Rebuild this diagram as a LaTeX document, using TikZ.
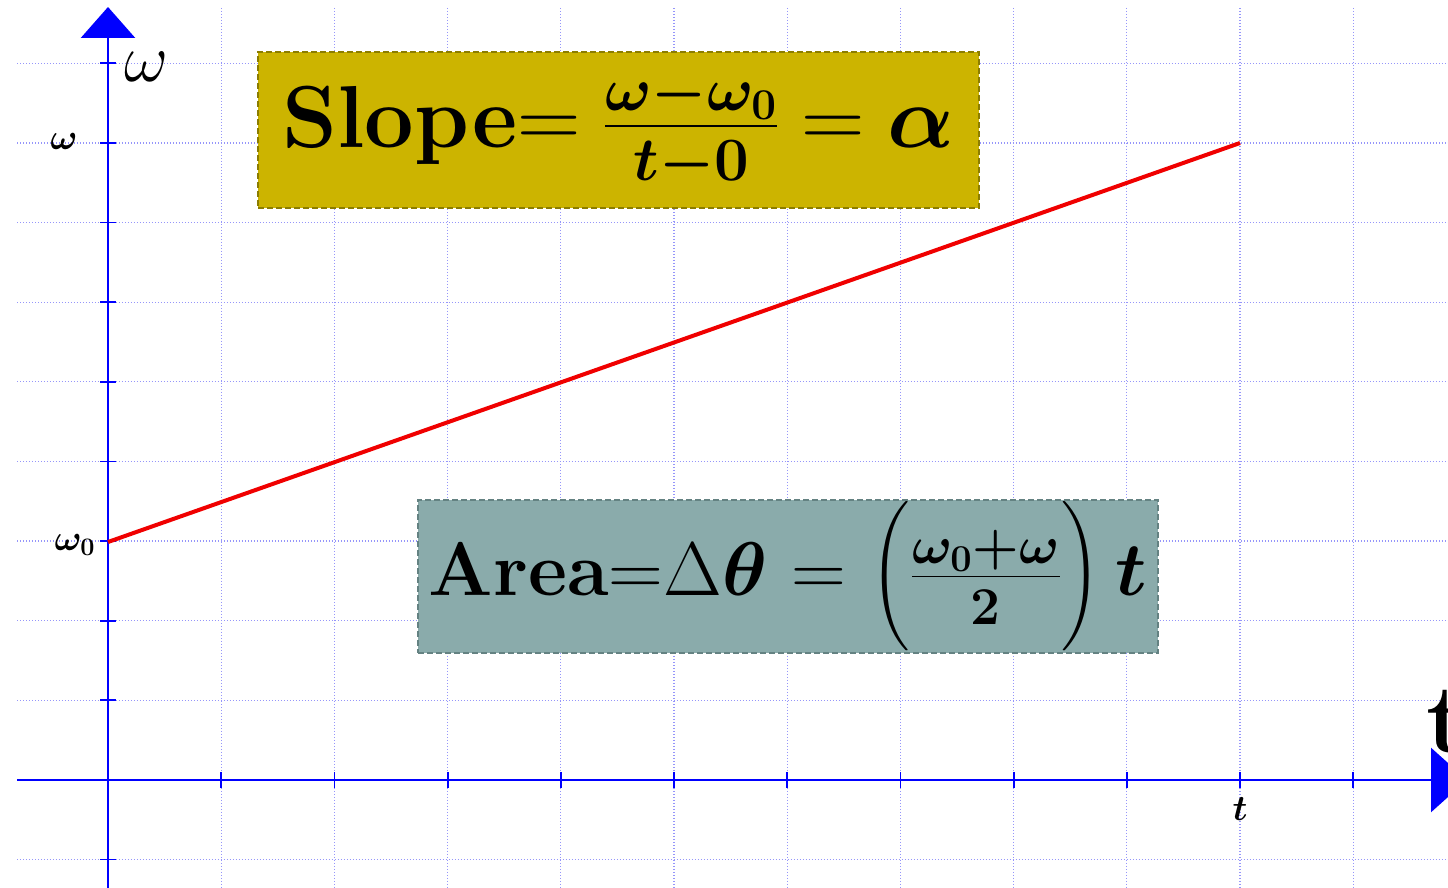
\RequirePackage{fix-cm}
\documentclass[tikz,border=0pt]{standalone}
\usepackage{amsmath,bm}
\usetikzlibrary{arrows.meta}
\definecolor{gridc}{RGB}{150,150,250}
\definecolor{axisc}{RGB}{0,0,255}
\definecolor{slopefill}{RGB}{204,180,0}
\definecolor{slopeedge}{RGB}{140,125,0}
\definecolor{areafill}{RGB}{138,171,171}
\definecolor{areaedge}{RGB}{100,130,130}
\definecolor{linec}{RGB}{240,0,0}
\tikzset{
  gridline/.style={draw=gridc,line width=0.6pt,dash pattern=on 0.6pt off 0.9pt},
  axisline/.style={draw=axisc,line width=1.4pt},
  tickmark/.style={draw=axisc,line width=0.9pt},
  slopebox/.style={draw=slopeedge,fill=slopefill,line width=1pt,dash pattern=on 3pt off 1.5pt,
    minimum width=360.5pt,minimum height=78pt,inner sep=0pt,text=white},
  areabox/.style={draw=areaedge,fill=areafill,line width=1pt,dash pattern=on 3pt off 1.5pt,
    minimum width=370pt,minimum height=76.5pt,inner sep=0pt,text=white},
  redline/.style={draw=linec,line width=2pt},
  lbl/.style={inner sep=0pt,text=black}
}
\newcommand{\thineq}{\mathrel{\mbox{\unboldmath$=$}}}
\newsavebox{\slopetxt}
\newsavebox{\areatxt}
\begin{document}
\sbox{\slopetxt}{\fontsize{44}{48}\selectfont\mathversion{bold}\thickmuskip=4mu\textbf{Slope}$\thineq\frac{\omega-\omega_0}{t-0}\thineq\alpha$}%
\sbox{\areatxt}{\fontsize{38}{42}\selectfont\mathversion{bold}\textbf{Area}$\mathord{\mbox{\unboldmath$=$}}\mbox{\unboldmath$\Delta$}\theta\thineq\mbox{\unboldmath$\Bigl($}\frac{\omega_0+\omega}{2}\mbox{\unboldmath$\Bigr)$}\,t$}%
\begin{tikzpicture}[x=0.5pt,y=-0.5pt]
\clip (0,0) rectangle (1448,888);
\fill[white] (0,0) rectangle (1448,888);
% grid
\foreach \i in {0,...,11} \draw[gridline] ({108+113.2*\i},8) -- ({108+113.2*\i},888);
\foreach \j in {0,...,10} \draw[gridline] (17,{63.4+79.6*\j}) -- (1448,{63.4+79.6*\j});
% axes
\coordinate (ybot) at (108,888);
\coordinate (ytop) at (108,7);
\coordinate (xleft) at (17,780);
\coordinate (xright) at (1467,780);
\draw[axisline,-{Triangle[width=27pt,length=15.5pt]}] (ybot) -- (ytop);
\draw[axisline,-{Triangle[width=32pt,length=18pt]}] (xleft) -- (xright);
% ticks
\foreach \j in {0,...,8,10} \draw[tickmark] (100,{63.4+79.6*\j}) -- (116,{63.4+79.6*\j});
\foreach \i in {1,...,11} \draw[tickmark] ({108+113.2*\i},772) -- ({108+113.2*\i},788);
% red line
\coordinate (w0) at (108,542);
\coordinate (w1) at (1240,143);
\draw[redline] (w0) -- (w1);
% labels
\node[lbl,anchor=base west] (ylabel) at (124,82) {\fontsize{34}{36}\selectfont$\omega$};
\node[lbl,anchor=base west] (xlabel) at (1426,752) {\fontsize{49}{50}\selectfont\textbf{t}};
\node[lbl,anchor=base east] (wlab) at (78,150) {\fontsize{18}{20}\selectfont$\bm{\omega}$};
\node[lbl,anchor=base east] (w0lab) at (96,550) {\fontsize{18}{20}\selectfont$\bm{\omega_0}$};
\node[lbl,anchor=base] (tlab) at (1240,820) {\fontsize{18}{20}\selectfont$\bm{t}$};
% boxes
\node[slopebox] (slopenode) at (618.5,130) {\usebox{\slopetxt}};
\node[areabox] (areanode) at (788,576.5) {\usebox{\areatxt}};
\end{tikzpicture}
\end{document}
